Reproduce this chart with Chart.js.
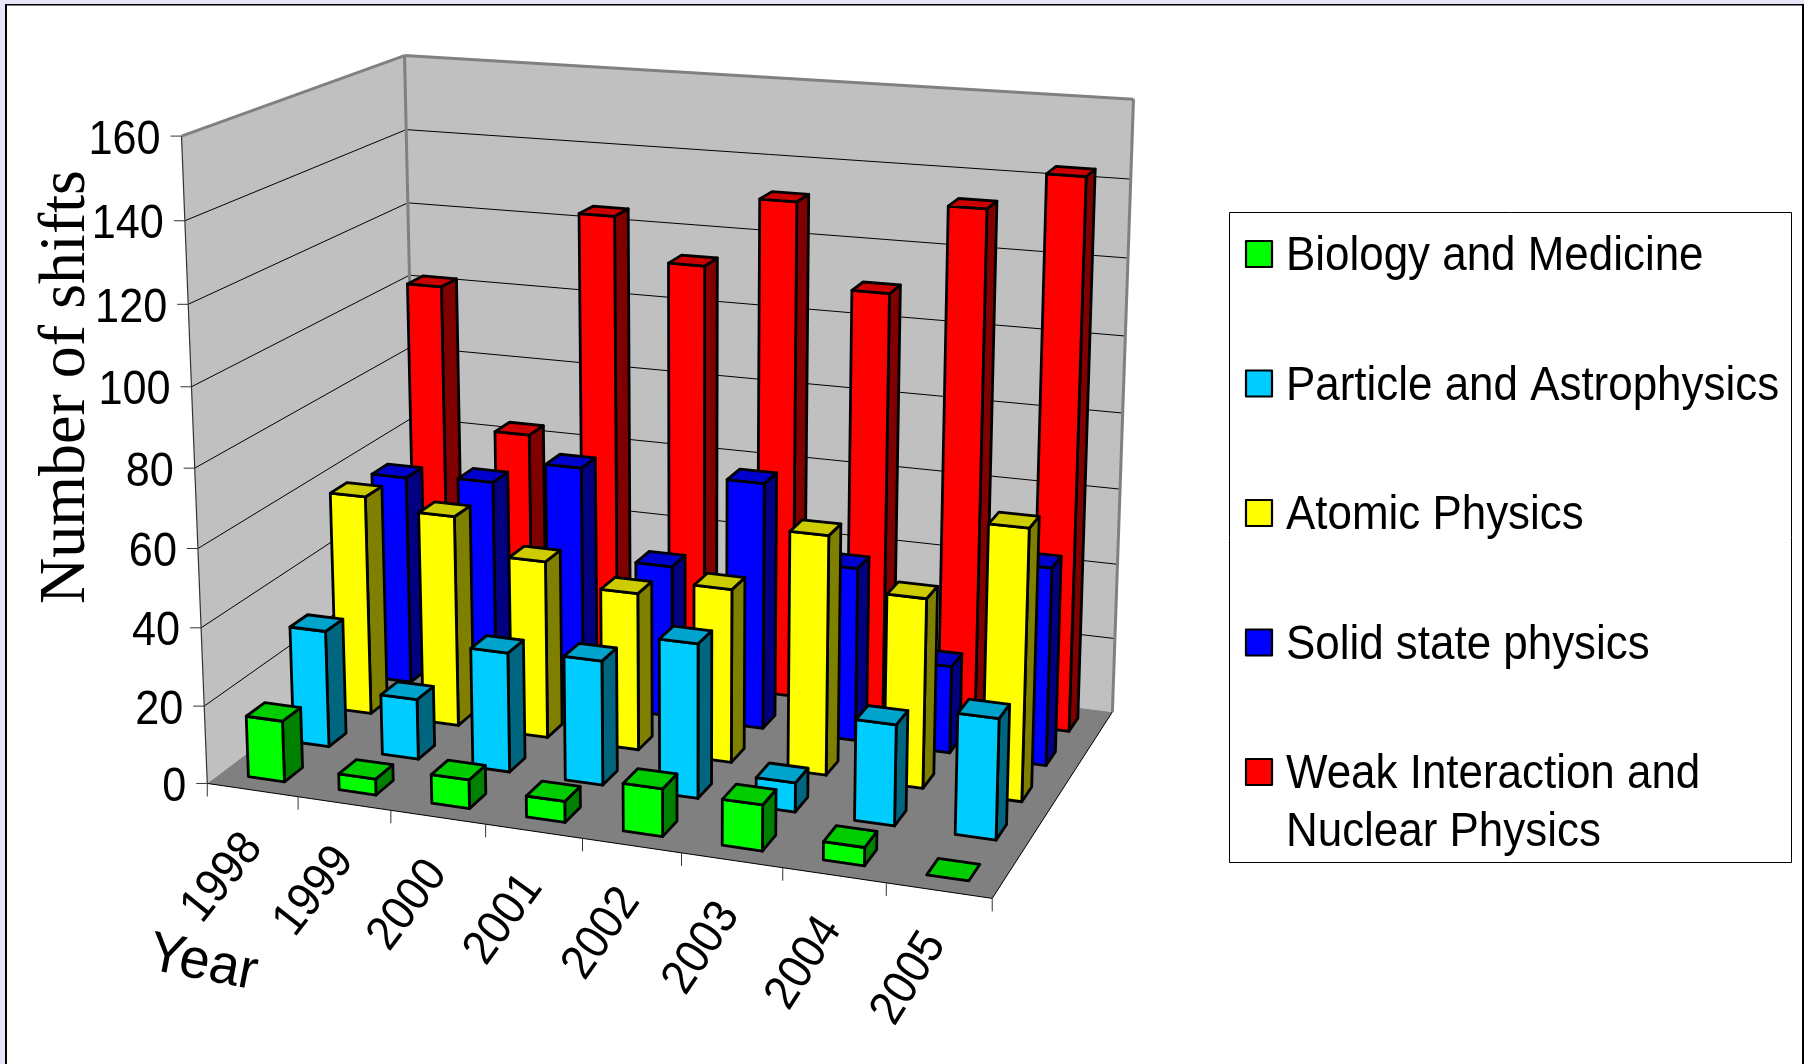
<!DOCTYPE html>
<html>
<head>
<meta charset="utf-8">
<title>Number of shifts per year</title>
<script src="https://cdn.jsdelivr.net/npm/chart.js@4/dist/chart.umd.min.js"></script>
<style>
  html, body { margin: 0; padding: 0; background: #fff; overflow: hidden; }
  canvas { display: block; }
</style>
</head>
<body>
<canvas id="chart3d" width="1804" height="1064"></canvas>
<script>
/* Values */
var years = ['1998', '1999', '2000', '2001', '2002', '2003', '2004', '2005'];
var biology = [15.7, 4.1, 7.3, 5.3, 11.9, 11.4, 4.5, 0];
var particle = [30.5, 15.7, 30.9, 31.9, 39.3, 7.4, 25.3, 30.1];
var atomic = [58.3, 55.7, 46.6, 41.1, 45, 61.5, 48.4, 68.7];
var solid = [56.4, 57.7, 64, 40.4, 65, 45.5, 22.8, 51.2];
var weak = [102, 63.7, 124.6, 113.4, 131.9, 110.2, 133.6, 143.4];
var seriesNames = ['Biology and Medicine', 'Particle and Astrophysics', 'Atomic Physics', 'Solid state physics', 'Weak Interaction and\nNuclear Physics'];

var frontColors = ['#00ff00', '#00ccff', '#ffff00', '#0000ff', '#ff0000'];
var topColors = ['#00cc00', '#00a3cc', '#cccc00', '#0000cc', '#cc0000'];
var sideColors = ['#008000', '#006680', '#808000', '#000080', '#800000'];

/* Where points of the 3D frame land on screen: [u, v, w, x, y] */
var frameCorners = [
  [0, 0, 0, 207.2, 784], [1, 0, 0, 991.8, 898.8], [0, 1, 0, 182.3, 136.7],
  [0, 1, 1, 403.3, 55.1], [1, 0, 1, 1112.5, 711.5], [1, 1, 1, 1134.5, 100], [0, 0, 1, 418, 625],
  [0, 0.5, 0, 194.5, 466], [0, 0.5, 1, 411, 348], [1, 0.5, 1, 1122, 412], [0.5, 0, 0, 582.4, 839]
];

/* Least squares fit of a 3x4 projection to the points above */
function fitProjection(pts) {
  var rows = [];
  pts.forEach(function (p) {
    rows.push([p[0], p[1], p[2], 1, 0, 0, 0, 0, -p[3] * p[0], -p[3] * p[1], -p[3] * p[2], p[3]]);
    rows.push([0, 0, 0, 0, p[0], p[1], p[2], 1, -p[4] * p[0], -p[4] * p[1], -p[4] * p[2], p[4]]);
  });
  var n = 11, m = [], i, j, k;
  for (i = 0; i < n; i++) {
    m.push([]);
    for (j = 0; j <= n; j++) {
      var s = 0;
      rows.forEach(function (r) { s += r[i] * r[j]; });
      m[i].push(s);
    }
  }
  for (i = 0; i < n; i++) {
    var best = i;
    for (k = i + 1; k < n; k++) if (Math.abs(m[k][i]) > Math.abs(m[best][i])) best = k;
    var t = m[i]; m[i] = m[best]; m[best] = t;
    for (k = 0; k < n; k++) {
      if (k === i) continue;
      var f = m[k][i] / m[i][i];
      for (j = i; j <= n; j++) m[k][j] -= f * m[i][j];
    }
  }
  var out = [];
  for (i = 0; i < n; i++) out.push(m[i][n] / m[i][i]);
  return out;
}
var P = fitProjection(frameCorners);

function project(u, v, w) {
  var d = P[8] * u + P[9] * v + P[10] * w + 1;
  return {
    x: (P[0] * u + P[1] * v + P[2] * w + P[3]) / d,
    y: (P[4] * u + P[5] * v + P[6] * w + P[7]) / d
  };
}

function poly(ctx, pts, fill, stroke, lw) {
  ctx.beginPath();
  pts.forEach(function (p, i) { if (i) ctx.lineTo(p.x, p.y); else ctx.moveTo(p.x, p.y); });
  ctx.closePath();
  if (fill) { ctx.fillStyle = fill; ctx.fill(); }
  if (stroke) { ctx.strokeStyle = stroke; ctx.lineWidth = lw; ctx.stroke(); }
}

function line(ctx, a, b, color, lw) {
  ctx.beginPath();
  ctx.moveTo(a.x, a.y);
  ctx.lineTo(b.x, b.y);
  ctx.strokeStyle = color;
  ctx.lineWidth = lw;
  ctx.stroke();
}

/* Text squeezed along its baseline, the picture's type is a bit narrow */
function text(ctx, str, x, y, font, sx, align, rot, baseline) {
  ctx.save();
  ctx.translate(x, y);
  if (rot) ctx.rotate(rot * Math.PI / 180);
  ctx.scale(sx, 1);
  ctx.font = font;
  ctx.textAlign = align;
  ctx.textBaseline = baseline || 'alphabetic';
  ctx.fillStyle = '#000';
  ctx.fillText(str, 0, 0);
  ctx.restore();
}

var bars3d = {
  id: 'bars3d',
  beforeDraw: function (chart) {
    var ctx = chart.ctx;
    ctx.save();
    ctx.fillStyle = '#e6e6f8';
    ctx.fillRect(0, 0, 1804, 1064);
    ctx.fillStyle = '#fff';
    ctx.fillRect(5, 4, 1799, 1060);
    ctx.fillStyle = '#000';
    ctx.fillRect(5, 4, 1799, 1.5);
    ctx.fillRect(5, 4, 2, 1060);
    ctx.fillRect(1802, 4, 2, 1060);
    ctx.restore();
  },
  beforeDatasetsDraw: function (chart) {
    var ctx = chart.ctx;
    var xs = chart.scales.x, ys = chart.scales.y, zs = chart.scales.depth;
    ctx.save();
    ctx.lineJoin = 'round';

    /* Walls and floor */
    poly(ctx, [project(0, 0, 0), project(0, 1, 0), project(0, 1, 1), project(0, 0, 1)], '#c0c0c0');
    poly(ctx, [project(0, 0, 1), project(0, 1, 1), project(1, 1, 1), project(1, 0, 1)], '#c0c0c0');
    poly(ctx, [project(0, 0, 0), project(1, 0, 0), project(1, 0, 1), project(0, 0, 1)], '#808080');

    /* Gridlines and value axis */
    ys.ticks.forEach(function (t) {
      var v = ys.getDecimalForPixel(ys.getPixelForValue(t.value));
      if (t.value > 0 && t.value < ys.max) {
        line(ctx, project(0, v, 0), project(0, v, 1), '#000', 1);
        line(ctx, project(0, v, 1), project(1, v, 1), '#000', 1);
      }
      var a = project(0, v, 0);
      line(ctx, { x: a.x - 11, y: a.y }, a, '#333', 1);
      text(ctx, String(t.value), a.x - 21, a.y + 17.5, '48px "Liberation Sans"', 0.9, 'right');
    });
    line(ctx, project(0, 0, 0), project(0, 1, 0), '#333', 1.2);
    line(ctx, project(0, 1, 0), project(0, 1, 1), '#808080', 3);
    line(ctx, project(0, 1, 1), project(1, 1, 1), '#808080', 3);
    line(ctx, project(1, 1, 1), project(1, 0, 1), '#808080', 3);
    line(ctx, project(0, 1, 1), project(0, 0, 1), '#808080', 3);
    line(ctx, project(0, 0, 0), project(1, 0, 0), '#000', 1);
    line(ctx, project(1, 0, 0), project(1, 0, 1), '#000', 1);

    /* Year ticks and labels, the tilt grows a little towards the right */
    years.forEach(function (y, i) {
      var a = project(i / years.length, 0, 0), b = project((i + 1) / years.length, 0, 0);
      var c = project((i + 0.5) / years.length, 0, 0);
      line(ctx, a, { x: a.x, y: a.y + 13 }, '#333', 1);
      if (i === years.length - 1) line(ctx, b, { x: b.x, y: b.y + 13 }, '#333', 1);
      text(ctx, y, c.x - 30, c.y + 88, '48px "Liberation Sans"', 0.92, 'center', -51 - i, 'middle');
    });

    /* Bars, back row first, left to right */
    var depthBand = zs.height / seriesNames.length;
    for (var d = seriesNames.length - 1; d >= 0; d--) {
      var zMid = zs.getPixelForValue(d);
      var w0 = zs.getDecimalForPixel(zMid - depthBand * 0.2);
      var w1 = zs.getDecimalForPixel(zMid + depthBand * 0.2);
      chart.getDatasetMeta(d).data.forEach(function (el) {
        var u0 = xs.getDecimalForPixel(el.x - el.width / 2);
        var u1 = xs.getDecimalForPixel(el.x + el.width / 2);
        var v = ys.getDecimalForPixel(el.y);
        if (v > 0) {
          poly(ctx, [project(u1, 0, w0), project(u1, v, w0), project(u1, v, w1), project(u1, 0, w1)], sideColors[d], '#000', 2.8);
          poly(ctx, [project(u0, 0, w0), project(u1, 0, w0), project(u1, v, w0), project(u0, v, w0)], frontColors[d], '#000', 2.8);
        }
        poly(ctx, [project(u0, v, w0), project(u1, v, w0), project(u1, v, w1), project(u0, v, w1)], topColors[d], '#000', 2.8);
      });
    }

    /* Axis titles */
    text(ctx, 'Year', 200, 979, '56px "Liberation Sans"', 0.97, 'center', 11);
    text(ctx, 'Number of shifts', 84, 387, '66px "Liberation Serif"', 0.97, 'center', -90);

    /* Legend box */
    ctx.fillStyle = '#fff';
    ctx.strokeStyle = '#000';
    ctx.lineWidth = 1;
    ctx.fillRect(1229.5, 212.5, 562, 650);
    ctx.strokeRect(1229.5, 212.5, 562, 650);
    chart.data.datasets.forEach(function (ds, k) {
      var rowY = 253 + k * 129.5;
      ctx.fillStyle = frontColors[k];
      ctx.strokeStyle = '#000';
      ctx.lineWidth = 2.2;
      ctx.fillRect(1246, rowY - 12, 26, 26);
      ctx.strokeRect(1246, rowY - 12, 26, 26);
      ds.label.split('\n').forEach(function (str, n) {
        text(ctx, str, 1286, rowY + 17 + n * 57.5, '48px "Liberation Sans"', 0.915, 'left');
      });
    });

    ctx.restore();
    return false; /* the stock flat bars are not drawn */
  }
};

new Chart(document.getElementById('chart3d'), {
  type: 'bar',
  data: {
    labels: years,
    datasets: [
      { label: seriesNames[0], data: biology, backgroundColor: frontColors[0] },
      { label: seriesNames[1], data: particle, backgroundColor: frontColors[1] },
      { label: seriesNames[2], data: atomic, backgroundColor: frontColors[2] },
      { label: seriesNames[3], data: solid, backgroundColor: frontColors[3] },
      { label: seriesNames[4], data: weak, backgroundColor: frontColors[4] }
    ]
  },
  options: {
    responsive: false,
    animation: false,
    plugins: { legend: { display: false }, tooltip: { enabled: false } },
    datasets: { bar: { grouped: false, barPercentage: 0.4, categoryPercentage: 1 } },
    scales: {
      x: { display: false },
      y: { display: false, min: 0, max: 160, ticks: { stepSize: 20 } },
      depth: { type: 'category', axis: 'y', position: 'left', labels: seriesNames, offset: true, display: false }
    }
  },
  plugins: [bars3d]
});
</script>
</body>
</html>
